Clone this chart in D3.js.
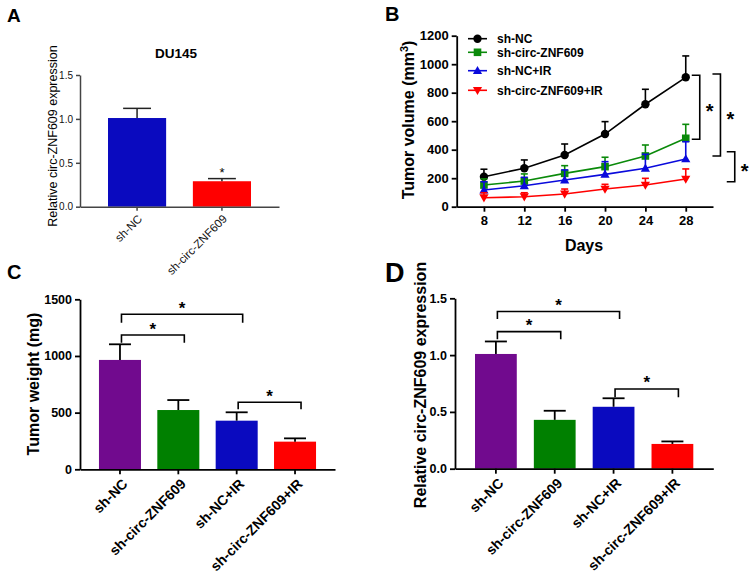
<!DOCTYPE html>
<html><head><meta charset="utf-8">
<script src="https://cdn.jsdelivr.net/npm/d3@7"></script>
<style>body{margin:0;background:#fff}svg{display:block}</style>
</head><body>
<svg id="chart" width="750" height="574"></svg>
<script>
// ---------- DATA ----------
// Panel A
const aCategories = ["sh-NC", "sh-circ-ZNF609"];
const aValues = [1.01, 0.29];
const aErrors = [0.11, 0.03];
const aTicks = [0, 0.5, 1.0, 1.5];
const aTickLabels = ["0.0", "0.5", "1.0", "1.5"];
const aSig = ["", "*"];

// Panel B
const bDays = [8, 12, 16, 20, 24, 28];
const bSeriesNames = ["sh-NC", "sh-circ-ZNF609", "sh-NC+IR", "sh-circ-ZNF609+IR"];
const bShNC = [210, 270, 363, 510, 719, 908];
const bShNCErr = [53, 58, 77, 87, 105, 150];
const bShCirc = [152, 180, 234, 281, 356, 480];
const bShCircErr = [43, 50, 54, 66, 77, 98];
const bShNCIR = [117, 147, 187, 227, 270, 335];
const bShNCIRErr = [58, 59, 71, 89, 98, 121];
const bShCircIR = [63, 70, 89, 124, 152, 194];
const bShCircIRErr = [35, 28, 35, 33, 47, 71];
const bYTicks = [0, 200, 400, 600, 800, 1000, 1200];
const bXTicks = [8, 12, 16, 20, 24, 28];
const bBrackets = [ {top: 922, bottom: 473}, {top: 931, bottom: 356}, {top: 386, bottom: 175} ];

// Panel C
const cCategories = ["sh-NC", "sh-circ-ZNF609", "sh-NC+IR", "sh-circ-ZNF609+IR"];
const cValues = [965, 523, 429, 244];
const cErrors = [138, 88, 74, 29];
const cTicks = [0, 500, 1000, 1500];
const cBrackets = [ {from: 0, to: 1, y: 1185, leg: 1117}, {from: 0, to: 2, y: 1368, leg: 1294}, {from: 2, to: 3, y: 591, leg: 529} ];

// Panel D
const dCategories = ["sh-NC", "sh-circ-ZNF609", "sh-NC+IR", "sh-circ-ZNF609+IR"];
const dValues = [1.01, 0.43, 0.545, 0.218];
const dErrors = [0.11, 0.08, 0.075, 0.022];
const dTicks = [0, 0.5, 1.0, 1.5];
const dTickLabels = ["0.0", "0.5", "1.0", "1.5"];
const dBrackets = [ {from: 0, to: 1, y: 1.207, leg: 1.14}, {from: 0, to: 2, y: 1.384, leg: 1.317}, {from: 2, to: 3, y: 0.702, leg: 0.629} ];

// ---------- STYLE ----------
const FONT = "'Liberation Sans', Arial, Helvetica, sans-serif";
const PURPLE = "#710a8e", GREEN = "#008000", BLUE = "#0a0abf", RED = "#ff0000";
const barColors4 = [PURPLE, GREEN, BLUE, RED];
const svg = d3.select("#chart").style("font-family", FONT);

function panelLabel(t, x, y, size) {
  svg.append("text").attr("x", x).attr("y", y).attr("font-size", size).attr("font-weight", "bold").text(t);
}
function rotateLabels(axisSel, size, bold, dx, dy) {
  axisSel.selectAll(".tick text")
    .attr("font-size", size).attr("font-weight", bold ? "bold" : "normal")
    .attr("x", 0).attr("y", 0).attr("dy", "0.35em")
    .attr("text-anchor", "end")
    .attr("transform", `translate(${dx},${dy}) rotate(-45)`);
}

// ---------- PANEL A ----------
(function () {
  const x = d3.scaleBand().domain(aCategories).range([80, 279]).paddingInner(0.315).paddingOuter(0.33);
  const y = d3.scaleLinear().domain([0, 1.5]).range([206.7, 75]);
  const g = svg.append("g");
  const axCol = "#444";
  g.selectAll("rect").data(aCategories).join("rect")
    .attr("x", d => x(d)).attr("width", x.bandwidth())
    .attr("y", (d, i) => y(aValues[i])).attr("height", (d, i) => y(0) - y(aValues[i]))
    .attr("fill", (d, i) => [BLUE, RED][i]);
  aCategories.forEach((c, i) => {
    const cx = x(c) + x.bandwidth() / 2;
    const capW = x.bandwidth() * 0.48;
    g.append("line").attr("x1", cx).attr("x2", cx).attr("y1", y(aValues[i])).attr("y2", y(aValues[i] + aErrors[i])).attr("stroke", "#222").attr("stroke-width", 1.5);
    g.append("line").attr("x1", cx - capW / 2).attr("x2", cx + capW / 2).attr("y1", y(aValues[i] + aErrors[i])).attr("y2", y(aValues[i] + aErrors[i])).attr("stroke", "#222").attr("stroke-width", 1.5);
    if (aSig[i]) g.append("text").attr("x", cx).attr("y", y(aValues[i] + aErrors[i]) - 2).attr("text-anchor", "middle").attr("font-size", 13).text(aSig[i]);
  });
  const ya = g.append("g").attr("transform", "translate(80,0)")
    .call(d3.axisLeft(y).tickValues(aTicks).tickFormat((d, i) => aTickLabels[i]).tickSize(4).tickSizeOuter(0));
  ya.select(".domain").attr("stroke", axCol).attr("stroke-width", 1.5);
  ya.selectAll(".tick line").attr("stroke", axCol).attr("stroke-width", 1.5);
  ya.selectAll("text").attr("font-size", 10).attr("font-family", FONT).attr("fill", "#111");
  const xa = g.append("g").attr("transform", "translate(0,206.7)")
    .call(d3.axisBottom(x).tickSize(4).tickSizeOuter(0));
  xa.select(".domain").attr("stroke", axCol).attr("stroke-width", 1.5);
  xa.selectAll(".tick line").attr("stroke", axCol).attr("stroke-width", 1.5);
  xa.selectAll("text").attr("font-family", FONT).attr("fill", "#111");
  rotateLabels(xa, 11.5, false, 3, 10);
  g.append("text").attr("x", 176).attr("y", 58).attr("text-anchor", "middle").attr("font-size", 13.5).attr("font-weight", "bold").text("DU145");
  g.append("text").attr("transform", "translate(57,136) rotate(-90)").attr("text-anchor", "middle").attr("font-size", 12.5).text("Relative circ-ZNF609 expression");
  panelLabel("A", 7, 22, 19);
})();

// ---------- PANEL B ----------
(function () {
  const x = d3.scaleLinear().domain([5.3, 30.7]).range([456.7, 713]);
  const y = d3.scaleLinear().domain([0, 1200]).range([206.7, 35.7]);
  const g = svg.append("g");
  const series = [
    {name: bSeriesNames[0], v: bShNC, e: bShNCErr, c: "#000", m: "circle"},
    {name: bSeriesNames[1], v: bShCirc, e: bShCircErr, c: "#0a8a0a", m: "square"},
    {name: bSeriesNames[2], v: bShNCIR, e: bShNCIRErr, c: "#0a0adc", m: "up"},
    {name: bSeriesNames[3], v: bShCircIR, e: bShCircIRErr, c: RED, m: "down"}
  ];
  function marker(sel, m, c) {
    if (m === "circle") sel.append("circle").attr("r", 4.2).attr("fill", c);
    else if (m === "square") sel.append("rect").attr("x", -3.8).attr("y", -3.8).attr("width", 7.6).attr("height", 7.6).attr("fill", c);
    else if (m === "up") sel.append("path").attr("d", "M0,-4.8L4.6,3.4L-4.6,3.4Z").attr("fill", c);
    else sel.append("path").attr("d", "M0,4.8L4.6,-3.4L-4.6,-3.4Z").attr("fill", c);
  }
  const line = d3.line().x((d, i) => x(bDays[i])).y(d => y(d));
  series.forEach(s => {
    const sg = g.append("g");
    bDays.forEach((d, i) => {
      const cx = x(d), top = y(s.v[i] + s.e[i]);
      sg.append("line").attr("x1", cx).attr("x2", cx).attr("y1", y(s.v[i])).attr("y2", top).attr("stroke", s.c).attr("stroke-width", 1.6);
      sg.append("line").attr("x1", cx - 3.5).attr("x2", cx + 3.5).attr("y1", top).attr("y2", top).attr("stroke", s.c).attr("stroke-width", 1.6);
    });
    sg.append("path").attr("d", line(s.v)).attr("fill", "none").attr("stroke", s.c).attr("stroke-width", 1.6);
    bDays.forEach((d, i) => {
      marker(sg.append("g").attr("transform", `translate(${x(d)},${y(s.v[i])})`), s.m, s.c);
    });
  });
  const legY = [38.7, 52.3, 70.7, 90.3];
  series.forEach((s, i) => {
    const lg = g.append("g").attr("transform", `translate(468,${legY[i]})`);
    lg.append("line").attr("x1", 0).attr("x2", 19).attr("stroke", s.c).attr("stroke-width", 1.6);
    marker(lg.append("g").attr("transform", "translate(9.5,0)"), s.m, s.c);
    lg.append("text").attr("x", 29).attr("y", 4.3).attr("font-size", 12).attr("font-weight", "bold").text(s.name);
  });
  const ya = g.append("g").attr("transform", "translate(456.7,0)")
    .call(d3.axisLeft(y).tickValues(bYTicks).tickFormat(d3.format("d")).tickSize(5).tickSizeOuter(0));
  const xa = g.append("g").attr("transform", "translate(0,206.7)")
    .call(d3.axisBottom(x).tickValues(bXTicks).tickFormat(d3.format("d")).tickSize(5).tickSizeOuter(0));
  [ya, xa].forEach(a => {
    a.select(".domain").attr("stroke", "#000").attr("stroke-width", 1.8);
    a.selectAll(".tick line").attr("stroke", "#000").attr("stroke-width", 1.8);
    a.selectAll("text").attr("font-size", 13).attr("font-weight", "bold").attr("font-family", FONT).attr("fill", "#000");
  });
  xa.selectAll("text").attr("y", 9);
  g.append("text").attr("x", 584).attr("y", 251).attr("text-anchor", "middle").attr("font-size", 16).attr("font-weight", "bold").text("Days");
  const yl = g.append("text").attr("transform", "translate(414,120) rotate(-90)").attr("text-anchor", "middle").attr("font-size", 16).attr("font-weight", "bold");
  yl.append("tspan").text("Tumor volume (mm");
  yl.append("tspan").attr("dy", -6).attr("font-size", 11).text("3");
  yl.append("tspan").attr("dy", 6).text(")");
  const bx = [x(28) + 14, x(28) + 34.7, x(28) + 49];
  bBrackets.forEach((b, i) => {
    const X = bx[i], y1 = y(b.top), y2 = y(b.bottom);
    g.append("path").attr("d", `M${X - 8},${y1}H${X}V${y2}H${X - 8}`).attr("fill", "none").attr("stroke", "#000").attr("stroke-width", 1.6);
    g.append("text").attr("x", X + 10).attr("y", (y1 + y2) / 2 + 11).attr("text-anchor", "middle").attr("font-size", 20).attr("font-weight", "bold").text("*");
  });
  panelLabel("B", 385, 21, 20);
})();

// ---------- PANELS C & D ----------
function barPanel(opts) {
  const x = d3.scaleBand().domain(opts.cats).range(opts.xr).paddingInner(opts.pi).paddingOuter(opts.po);
  const y = d3.scaleLinear().domain(opts.yd).range(opts.yr);
  const g = svg.append("g");
  g.selectAll("rect").data(opts.cats).join("rect")
    .attr("x", d => x(d)).attr("width", x.bandwidth())
    .attr("y", (d, i) => y(opts.values[i])).attr("height", (d, i) => y(0) - y(opts.values[i]))
    .attr("fill", (d, i) => barColors4[i]);
  opts.cats.forEach((c, i) => {
    const cx = x(c) + x.bandwidth() / 2, top = y(opts.values[i] + opts.errors[i]);
    g.append("line").attr("x1", cx).attr("x2", cx).attr("y1", y(opts.values[i])).attr("y2", top).attr("stroke", "#000").attr("stroke-width", 1.8);
    g.append("line").attr("x1", cx - 11).attr("x2", cx + 11).attr("y1", top).attr("y2", top).attr("stroke", "#000").attr("stroke-width", 1.8);
  });
  const ya = g.append("g").attr("transform", `translate(${opts.xr[0]},0)`)
    .call(d3.axisLeft(y).tickValues(opts.ticks).tickFormat((d, i) => opts.tickLabels ? opts.tickLabels[i] : d).tickSize(5).tickSizeOuter(0));
  const xa = g.append("g").attr("transform", `translate(0,${opts.yr[0]})`)
    .call(d3.axisBottom(x).tickSize(5).tickSizeOuter(0));
  [ya, xa].forEach(a => {
    a.select(".domain").attr("stroke", "#000").attr("stroke-width", 1.8);
    a.selectAll(".tick line").attr("stroke", "#000").attr("stroke-width", 1.8);
    a.selectAll("text").attr("font-size", 12.5).attr("font-weight", "bold").attr("font-family", FONT).attr("fill", "#000");
  });
  rotateLabels(xa, 14, true, 5, 12);
  opts.brackets.forEach(b => {
    const x1 = x(opts.cats[b.from]) + x.bandwidth() / 2 + 1.5;
    const x2 = x(opts.cats[b.to]) + x.bandwidth() / 2 + 6;
    const Y = y(b.y), L = y(b.leg);
    g.append("path").attr("d", `M${x1},${L}V${Y}H${x2}V${L}`).attr("fill", "none").attr("stroke", "#000").attr("stroke-width", 1.6);
    g.append("text").attr("x", (x1 + x2) / 2).attr("y", Y - 0.5).attr("text-anchor", "middle").attr("font-size", 17).attr("font-weight", "bold").text("*");
  });
  g.append("text").attr("transform", `translate(${opts.ylx},${opts.yly}) rotate(-90)`).attr("text-anchor", "middle").attr("font-size", 16).attr("font-weight", "bold").text(opts.ylabel);
}

barPanel({cats: cCategories, values: cValues, errors: cErrors, xr: [80, 335], pi: 0.28, po: 0.325,
  yd: [0, 1500], yr: [469.3, 299.3], ticks: cTicks, brackets: cBrackets, ylabel: "Tumor weight (mg)", ylx: 39, yly: 384});
barPanel({cats: dCategories, values: dValues, errors: dErrors, xr: [455, 713.3], pi: 0.29, po: 0.34,
  yd: [0, 1.5], yr: [468.7, 298.3], ticks: dTicks, tickLabels: dTickLabels, brackets: dBrackets, ylabel: "Relative circ-ZNF609 expression", ylx: 426, yly: 385});
panelLabel("C", 7, 279, 20);
panelLabel("D", 385, 282, 27);
</script>
</body></html>
